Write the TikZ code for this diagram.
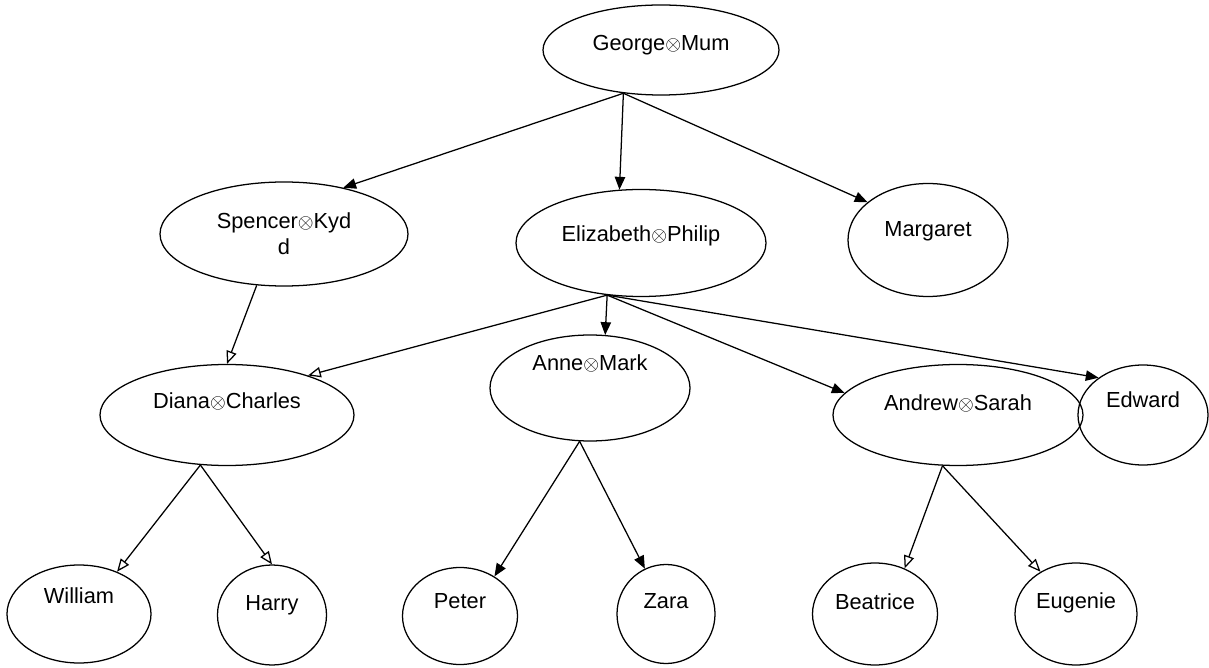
\documentclass[tikz,border=0pt]{standalone}
\usepackage{fontspec}
\setmainfont{Liberation Sans}
\usetikzlibrary{arrows.meta,shapes.geometric}
\newcommand{\ox}{\ensuremath{\otimes}}
\tikzset{
  famnode/.style 2 args={draw, ellipse, line width=0.9pt, inner sep=0pt, minimum width=#1*0.025cm, minimum height=#2*0.025cm, align=center},
  lift/.style={text height=11.5pt, text depth=#1*0.05cm},
  kidarrow/.style={-{Triangle[length=3.2mm, width=2.6mm]}, line width=0.9pt},
  kidarrowopen/.style={-{Triangle[open, length=3.2mm, width=2.6mm]}, line width=0.9pt}
}
\begin{document}
\begin{tikzpicture}[x=0.025cm, y=-0.025cm, every node/.style={font=\fontsize{15.5}{18.5}\selectfont}]
  \useasboundingbox (0,0) rectangle (1209,668);
  % top couple and their children
  \node[famnode={236}{90}, lift=8] (gm) at (661,50) {George\ox Mum};
  \node[famnode={248}{104}] (sk) at (284,234) {Spencer\ox Kyd\\d};
  \node[famnode={250}{107}, lift=10] (ep) at (641,243) {Elizabeth\ox Philip};
  \node[famnode={160}{113}, lift=12] (mg) at (928,240) {Margaret};
  % second row
  \node[famnode={254}{101}, lift=15] (dc) at (227,415) {Diana\ox Charles};
  \node[famnode={200}{106}, lift=26] (am) at (590,388) {Anne\ox Mark};
  \node[famnode={250}{101}, lift=13] (as) at (958,415) {Andrew\ox Sarah};
  \node[famnode={130}{100}, lift=16] (ed) at (1143,415) {Edward};
  % grandchildren
  \node[famnode={144}{98}, lift=19] (wi) at (79,614) {William};
  \node[famnode={109}{100}, lift=13] (ha) at (272,615) {Harry};
  \node[famnode={115}{97}, lift=16] (pe) at (460,616) {Peter};
  \node[famnode={98}{99}, lift=14] (za) at (666,614) {Zara};
  \node[famnode={125}{102}, lift=13] (be) at (875,614) {Beatrice};
  \node[famnode={122}{102}, lift=14] (eu) at (1076,614) {Eugenie};
  % descent arrows
  \draw[kidarrow] (gm.229) -- (sk.38);
  \draw[kidarrow] (gm.229) -- (ep.112);
  \draw[kidarrow] (gm.229) -- (mg.148);
  \draw[kidarrowopen] (sk.242) -- (dc.90);
  \draw[kidarrowopen] (ep.237) -- (dc.26);
  \draw[kidarrow] (ep.237) -- (am.74);
  \draw[kidarrow] (ep.237) -- (as.169);
  \draw[kidarrow] (ep.237) -- (ed.140);
  \draw[kidarrowopen] (dc.242) -- (wi.48);
  \draw[kidarrowopen] (dc.242) -- (ha.90);
  \draw[kidarrow] (am.259) -- (pe.49);
  \draw[kidarrow] (am.259) -- (za.115);
  \draw[kidarrowopen] (as.253) -- (be.57);
  \draw[kidarrowopen] (as.253) -- (eu.130);
\end{tikzpicture}
\end{document}
